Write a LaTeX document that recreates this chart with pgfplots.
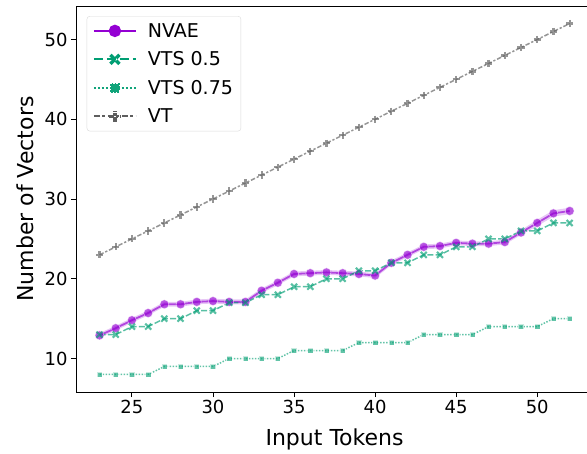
\documentclass[border=0pt]{standalone}
\usepackage{pgfplots}
\pgfplotsset{compat=1.18}
\usepackage{pgfplotstable}
\usepgfplotslibrary{fillbetween}
\usepackage{fontspec}
\setmainfont{DejaVu Sans}
\definecolor{nvae}{HTML}{9400D3}
\definecolor{vtsa}{HTML}{009E73}
\definecolor{vtsb}{HTML}{10A47A}
\definecolor{vt}{HTML}{5E5E5E}
\pgfdeclareplotmark{fatx}{%
  \pgfsetdash{}{0pt}\pgfsetbuttcap
  \pgfsetlinewidth{0.7\pgfplotmarksize}%
  \pgfpathmoveto{\pgfqpoint{-\pgfplotmarksize}{-\pgfplotmarksize}}%
  \pgfpathlineto{\pgfqpoint{\pgfplotmarksize}{\pgfplotmarksize}}%
  \pgfpathmoveto{\pgfqpoint{-\pgfplotmarksize}{\pgfplotmarksize}}%
  \pgfpathlineto{\pgfqpoint{\pgfplotmarksize}{-\pgfplotmarksize}}%
  \pgfusepathqstroke}
\pgfdeclareplotmark{fatplus}{%
  \pgfsetdash{}{0pt}\pgfsetbuttcap
  \pgfsetlinewidth{0.75\pgfplotmarksize}%
  \pgfpathmoveto{\pgfqpoint{-1.2\pgfplotmarksize}{0pt}}%
  \pgfpathlineto{\pgfqpoint{1.2\pgfplotmarksize}{0pt}}%
  \pgfpathmoveto{\pgfqpoint{0pt}{1.2\pgfplotmarksize}}%
  \pgfpathlineto{\pgfqpoint{0pt}{-1.2\pgfplotmarksize}}%
  \pgfusepathqstroke}
\pgfplotstableread{
x nvae lo hi vtsa vtsb vt
23 12.9 12.6 13.2 13 8 23
24 13.8 13.5 14.1 13 8 24
25 14.8 14.5 15.1 14 8 25
26 15.7 15.4 16.0 14 8 26
27 16.8 16.5 17.1 15 9 27
28 16.8 16.5 17.1 15 9 28
29 17.1 16.8 17.4 16 9 29
30 17.2 16.9 17.5 16 9 30
31 17.1 16.8 17.4 17 10 31
32 17.1 16.8 17.4 17 10 32
33 18.5 18.2 18.8 18 10 33
34 19.5 19.2 19.8 18 10 34
35 20.6 20.3 20.9 19 11 35
36 20.7 20.4 21.0 19 11 36
37 20.8 20.5 21.1 20 11 37
38 20.7 20.4 21.0 20 11 38
39 20.6 20.3 20.9 21 12 39
40 20.4 20.1 20.7 21 12 40
41 22.0 21.7 22.3 22 12 41
42 23.0 22.7 23.3 22 12 42
43 24.0 23.7 24.3 23 13 43
44 24.1 23.8 24.4 23 13 44
45 24.5 24.2 24.8 24 13 45
46 24.4 24.1 24.7 24 13 46
47 24.4 24.1 24.7 25 14 47
48 24.6 24.3 24.9 25 14 48
49 25.8 25.5 26.1 26 14 49
50 27.0 26.6 27.4 26 14 50
51 28.2 27.8 28.6 27 15 51
52 28.5 28.1 28.9 27 15 52
}\data
\begin{document}
\begin{tikzpicture}
\begin{axis}[
  name=ax,
  scale only axis, width=511pt, height=386pt,
  xmin=21.55, xmax=53.07, ymin=5.8, ymax=54.2,
  axis x line*=bottom, axis y line*=left,
  axis line style={-, line width=0.9pt},
  xtick={25,30,...,50}, ytick={10,20,...,50},
  tick align=outside, major tick length=5pt,
  tick style={line width=0.9pt, black},
  /pgf/number format/assume math mode=true,
  ticklabel style={font=\fontsize{18}{20}\selectfont},
  xlabel={Input Tokens}, ylabel={Number of Vectors},
  label style={font=\fontsize{22}{24}\selectfont},
  xlabel style={at={(axis description cs:0.506,-0.1373)}, anchor=base},
  ylabel style={at={(axis description cs:-0.0841,0.5)}, anchor=base, rotate=0},
  legend style={at={(axis description cs:0.021,0.974)}, anchor=north west,
    font=\fontsize{19}{21}\selectfont, draw=gray!30, rounded corners=3pt,
    fill=white, fill opacity=0.8, text opacity=1, row sep=9pt,
    inner xsep=6pt, inner ysep=5pt,
    /tikz/every odd column/.append style={column sep=9pt}},
  legend cell align=left,
]
\addplot[name path=hi, draw=none, forget plot] table[x=x,y=hi]{\data};
\addplot[name path=lo, draw=none, forget plot] table[x=x,y=lo]{\data};
\addplot[fill=nvae, fill opacity=0.22, draw=none, forget plot] fill between[of=hi and lo];
\addplot[draw=nvae, line width=1.8pt, opacity=0.65, mark=*, mark size=4.5pt,
  mark options={solid, draw=white, fill=nvae, line width=0.5pt},
  legend image code/.code={
    \draw[draw=nvae, line width=2pt, solid, opacity=1, sharp corners] (0pt,0pt) -- (42pt,0pt);
    \fill[nvae, opacity=1, fill opacity=1, sharp corners] (21pt,0pt) circle (5.3pt);}]
  table[x=x,y=nvae]{\data};
\addlegendentry{NVAE}
\addplot[draw=vtsa, line width=1.5pt, opacity=0.65, dash pattern=on 6pt off 2.25pt, mark=fatx, mark size=3pt, mark options={solid, draw=vtsa},
  legend image code/.code={
    \draw[draw=vtsa, line width=2pt, dash pattern=on 9pt off 4pt, opacity=1, sharp corners] (0pt,0pt) -- (42pt,0pt);
    \draw[draw=vtsa, line width=3.4pt, opacity=1, sharp corners] (16.5pt,-4.5pt) -- (25.5pt,4.5pt) (16.5pt,4.5pt) -- (25.5pt,-4.5pt);}]
  table[x=x,y=vtsa]{\data};
\addlegendentry{VTS 0.5}
\addplot[draw=vtsb, line width=1.5pt, opacity=0.65, dash pattern=on 1.5pt off 1.5pt, mark=square*, mark size=2.6pt, mark options={solid, draw=white, fill=vtsb, line width=0.4pt},
  legend image code/.code={
    \draw[draw=vtsb, line width=2pt, dash pattern=on 2pt off 2pt, opacity=1, sharp corners] (0pt,0pt) -- (42pt,0pt);
    \fill[vtsb, opacity=1, fill opacity=1, sharp corners] (17pt,-4pt) rectangle (25pt,4pt);}]
  table[x=x,y=vtsb]{\data};
\addlegendentry{VTS 0.75}
\addplot[draw=vt, line width=1.5pt, opacity=0.65, dash pattern=on 4.5pt off 1.9pt on 2.25pt off 1.9pt, mark=fatplus, mark size=3pt, mark options={solid, draw=vt},
  legend image code/.code={
    \draw[draw=vt, line width=2pt, dash pattern=on 6pt off 2.5pt on 3pt off 2.5pt, opacity=1, sharp corners] (0pt,0pt) -- (42pt,0pt);
    \draw[draw=vt, line width=3.4pt, opacity=1, sharp corners] (15.5pt,0pt) -- (26.5pt,0pt) (21pt,-5.5pt) -- (21pt,5.5pt);}]
  table[x=x,y=vt]{\data};
\addlegendentry{VT}
\end{axis}
\draw[line width=0.9pt] (ax.north west) -- (ax.north east);
\pgfresetboundingbox
\path[use as bounding box] ([xshift=-76pt,yshift=-61pt]ax.south west) rectangle ([yshift=6pt]ax.north east);
\end{tikzpicture}
\end{document}
